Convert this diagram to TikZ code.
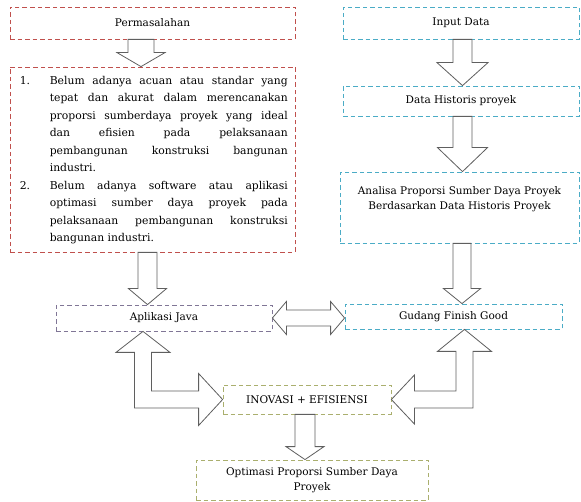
\documentclass[tikz,border=0pt]{standalone}
\usepackage{fontspec}
\setmainfont{DejaVu Serif}
\usepackage{tikz}
\usetikzlibrary{positioning, calc}
\definecolor{boxred}{RGB}{192,80,77}
\definecolor{boxteal}{RGB}{75,172,198}
\definecolor{boxlilac}{RGB}{128,118,150}
\definecolor{boxolive}{RGB}{170,175,110}
\definecolor{arrowgray}{RGB}{95,95,95}

\tikzset{
  dbox/.style={draw, dash pattern=on 4.5pt off 3pt, line width=0.8pt, inner sep=2pt,
    align=center, font=\fontsize{10.5}{14.5}\selectfont},
  blockarrow/.style={draw=arrowgray, fill=white, line width=0.8pt},
}

% block arrow pointing down: start, tip, shaft half width, head half width, head length
\newcommand{\blockdown}[5]{%
  \draw[blockarrow] ($(#1)+(-#3,0)$) -- ($(#2)+(-#3,-#5)$) -- ($(#2)+(-#4,-#5)$) -- (#2)
    -- ($(#2)+(#4,-#5)$) -- ($(#2)+(#3,-#5)$) -- ($(#1)+(#3,0)$) -- cycle;}

\begin{document}
\begin{tikzpicture}[x=1pt, y=-1pt]
  \useasboundingbox (0,0) rectangle (581,502);
  % left column
  \node[dbox, draw=boxred, minimum width=285pt, minimum height=32pt] (perm) at (152.5,23) {Permasalahan};
  \node[dbox, draw=boxred, minimum width=285pt, minimum height=185pt] (masalah) at (152.5,159.5) {};
  \node[anchor=north west, inner sep=0pt, align=left, font=\fontsize{10.8}{17.5}\selectfont]
    (daftar) at ([xshift=10pt, yshift=-9pt]masalah.north west) {%
    \makebox[30pt][l]{1.}\makebox[238pt][s]{Belum adanya acuan atau standar yang}\\
    \hspace*{30pt}\makebox[238pt][s]{tepat dan akurat dalam merencanakan}\\
    \hspace*{30pt}\makebox[238pt][s]{proporsi sumberdaya proyek yang ideal}\\
    \hspace*{30pt}\makebox[238pt][s]{dan efisien pada pelaksanaan}\\
    \hspace*{30pt}\makebox[238pt][s]{pembangunan konstruksi bangunan}\\
    \hspace*{30pt}industri.\\
    \makebox[30pt][l]{2.}\makebox[238pt][s]{Belum adanya software atau aplikasi}\\
    \hspace*{30pt}\makebox[238pt][s]{optimasi sumber daya proyek pada}\\
    \hspace*{30pt}\makebox[238pt][s]{pelaksanaan pembangunan konstruksi}\\
    \hspace*{30pt}bangunan industri.};
  % right column
  \node[dbox, draw=boxteal, minimum width=236pt, minimum height=32pt] (input) at (461,23) {Input Data};
  \node[dbox, draw=boxteal, minimum width=236pt, minimum height=30pt] (histori) at (461,101) {Data Historis proyek};
  \node[dbox, draw=boxteal, minimum width=239pt, minimum height=71pt] (analisa) at (459.5,207.5)
    {Analisa Proporsi Sumber Daya Proyek\\Berdasarkan Data Historis Proyek\\[4pt]};
  % middle row
  \node[dbox, draw=boxlilac, minimum width=216pt, minimum height=26pt] (java) at (164,318) {Aplikasi Java};
  \node[dbox, draw=boxteal, minimum width=217pt, minimum height=25pt] (gudang) at (453.5,316.5) {Gudang Finish Good};
  \node[dbox, draw=boxolive, minimum width=168pt, minimum height=29pt] (inovasi) at (307,399.5) {INOVASI + EFISIENSI};
  \node[dbox, draw=boxolive, minimum width=232pt, minimum height=40pt] (optimasi) at (312,480)
    {Optimasi Proporsi Sumber Daya\\Proyek};

  % straight block arrows
  \coordinate (a1) at ([xshift=-11.5pt]perm.south);
  \coordinate (a1t) at (a1 |- masalah.north);
  \blockdown{a1}{a1t}{13}{24}{14}
  \coordinate (a2) at ([xshift=-5pt]masalah.south);
  \coordinate (a2t) at (a2 |- java.north);
  \blockdown{a2}{a2t}{9.5}{19}{16}
  \coordinate (a3) at ([xshift=1.5pt]input.south);
  \coordinate (a3t) at (a3 |- histori.north);
  \blockdown{a3}{a3t}{9.5}{25.5}{23}
  \coordinate (a4) at ([xshift=1.5pt]histori.south);
  \coordinate (a4t) at (a4 |- analisa.north);
  \blockdown{a4}{a4t}{9.5}{25}{24}
  \coordinate (a5) at ([xshift=2.5pt]analisa.south);
  \coordinate (a5t) at (a5 |- gudang.north);
  \blockdown{a5}{a5t}{9}{18.5}{15}
  \coordinate (a6) at ([xshift=-2pt]inovasi.south);
  \coordinate (a6t) at (a6 |- optimasi.north);
  \blockdown{a6}{a6t}{10}{19}{13}

  % double arrow java <-> gudang
  \coordinate (dl) at (java.east);
  \coordinate (dr) at (dl -| gudang.west);
  \draw[blockarrow] (dl) -- ($(dl)+(14,-16.5)$) -- ($(dl)+(14,-8)$) -- ($(dr)+(-14,-8)$)
    -- ($(dr)+(-14,-16.5)$) -- (dr) -- ($(dr)+(-14,16.5)$) -- ($(dr)+(-14,8)$)
    -- ($(dl)+(14,8)$) -- ($(dl)+(14,16.5)$) -- cycle;

  % bent arrows to inovasi
  \coordinate (l1) at ([xshift=-21pt]java.south);
  \coordinate (l2) at (inovasi.west);
  \draw[blockarrow] (l1) -- ($(l1)+(27,21)$) -- ($(l1)+(8.5,21)$) -- ($(l1 |- l2)+(8.5,-8.5)$)
    -- ($(l2)+(-24,-8.5)$) -- ($(l2)+(-24,-26)$) -- (l2) -- ($(l2)+(-24,26)$)
    -- ($(l2)+(-24,8.5)$) -- ($(l1 |- l2)+(-8.5,8.5)$) -- ($(l1)+(-8.5,21)$)
    -- ($(l1)+(-27,21)$) -- cycle;
  \coordinate (r1) at ([xshift=11pt]gudang.south);
  \coordinate (r2) at (inovasi.east);
  \draw[blockarrow] (r1) -- ($(r1)+(-27,22)$) -- ($(r1)+(-8.5,22)$) -- ($(r1 |- r2)+(-8.5,-8.5)$)
    -- ($(r2)+(23,-8.5)$) -- ($(r2)+(23,-24.5)$) -- (r2) -- ($(r2)+(23,24.5)$)
    -- ($(r2)+(23,8.5)$) -- ($(r1 |- r2)+(8.5,8.5)$) -- ($(r1)+(8.5,22)$)
    -- ($(r1)+(27,22)$) -- cycle;
\end{tikzpicture}
\end{document}
